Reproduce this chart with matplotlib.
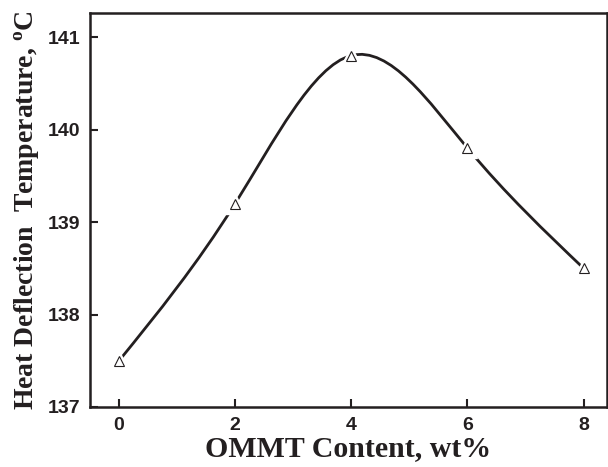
import numpy as np
import matplotlib
matplotlib.use("Agg")
import matplotlib.pyplot as plt
from matplotlib.path import Path
import matplotlib.patches as patches

ommt = [0, 2, 4, 6, 8]
hdt = [137.5, 139.2, 140.8, 139.8, 138.5]
x_ticks = [0, 2, 4, 6, 8]
y_ticks = [137, 138, 139, 140, 141]


def smooth_path(xs, ys):
    # natural cubic spline through the points, as cubic Bezier segments
    x = np.asarray(xs, float)
    y = np.asarray(ys, float)
    n = len(x)
    h = np.diff(x)
    A = np.zeros((n, n))
    r = np.zeros(n)
    A[0, 0] = 2 / h[0]
    A[0, 1] = 1 / h[0]
    r[0] = 3 * (y[1] - y[0]) / h[0] ** 2
    A[-1, -2] = 1 / h[-1]
    A[-1, -1] = 2 / h[-1]
    r[-1] = 3 * (y[-1] - y[-2]) / h[-1] ** 2
    for i in range(1, n - 1):
        A[i, i - 1] = 1 / h[i - 1]
        A[i, i] = 2 / h[i - 1] + 2 / h[i]
        A[i, i + 1] = 1 / h[i]
        r[i] = 3 * ((y[i] - y[i - 1]) / h[i - 1] ** 2 + (y[i + 1] - y[i]) / h[i] ** 2)
    d = np.linalg.solve(A, r)
    verts = [(x[0], y[0])]
    codes = [Path.MOVETO]
    for i in range(n - 1):
        verts += [(x[i] + h[i] / 3, y[i] + d[i] * h[i] / 3),
                  (x[i + 1] - h[i] / 3, y[i + 1] - d[i + 1] * h[i] / 3),
                  (x[i + 1], y[i + 1])]
        codes += [Path.CURVE4] * 3
    return Path(verts, codes)


fig = plt.figure(figsize=(6.08, 4.67), dpi=100)
ax = fig.add_axes([0.148, 0.1285, 0.85, 0.8437])

curve = patches.PathPatch(smooth_path(ommt, hdt), facecolor="none",
                          edgecolor="#231f20", linewidth=2.0, zorder=2)
ax.add_patch(curve)
# white halo so the line stops short of each marker
ax.plot(ommt, hdt, linestyle="none", marker="^", markersize=14,
        markerfacecolor="white", markeredgecolor="white", zorder=3)
ax.plot(ommt, hdt, linestyle="none", marker="^", markersize=7,
        markerfacecolor="white", markeredgecolor="#231f20",
        markeredgewidth=0.8, zorder=4)

ax.set_xlim(-0.5, 8.4)
ax.set_ylim(137, 141.26)
ax.set_xticks(x_ticks)
ax.set_yticks(y_ticks)
ax.tick_params(direction="in", length=6, width=1.5, color="#231f20",
               labelsize=14, pad=7)
for lab in ax.get_xticklabels() + ax.get_yticklabels():
    lab.set_fontfamily("Liberation Sans")
    lab.set_fontweight("bold")
    lab.set_color("#231f20")
for sp in ax.spines.values():
    sp.set_linewidth(1.8)
    sp.set_color("#231f20")

ax.set_xlabel("OMMT Content, wt%", fontfamily="Liberation Serif",
              fontweight="bold", fontsize=21.5, color="#231f20", labelpad=1)
ax.set_ylabel("Heat Deflection  Temperature, $\\mathregular{^{o}}$C",
              fontfamily="Liberation Serif", fontweight="bold", fontsize=20,
              color="#231f20", labelpad=5)

fig.savefig("out.png", dpi=100)
